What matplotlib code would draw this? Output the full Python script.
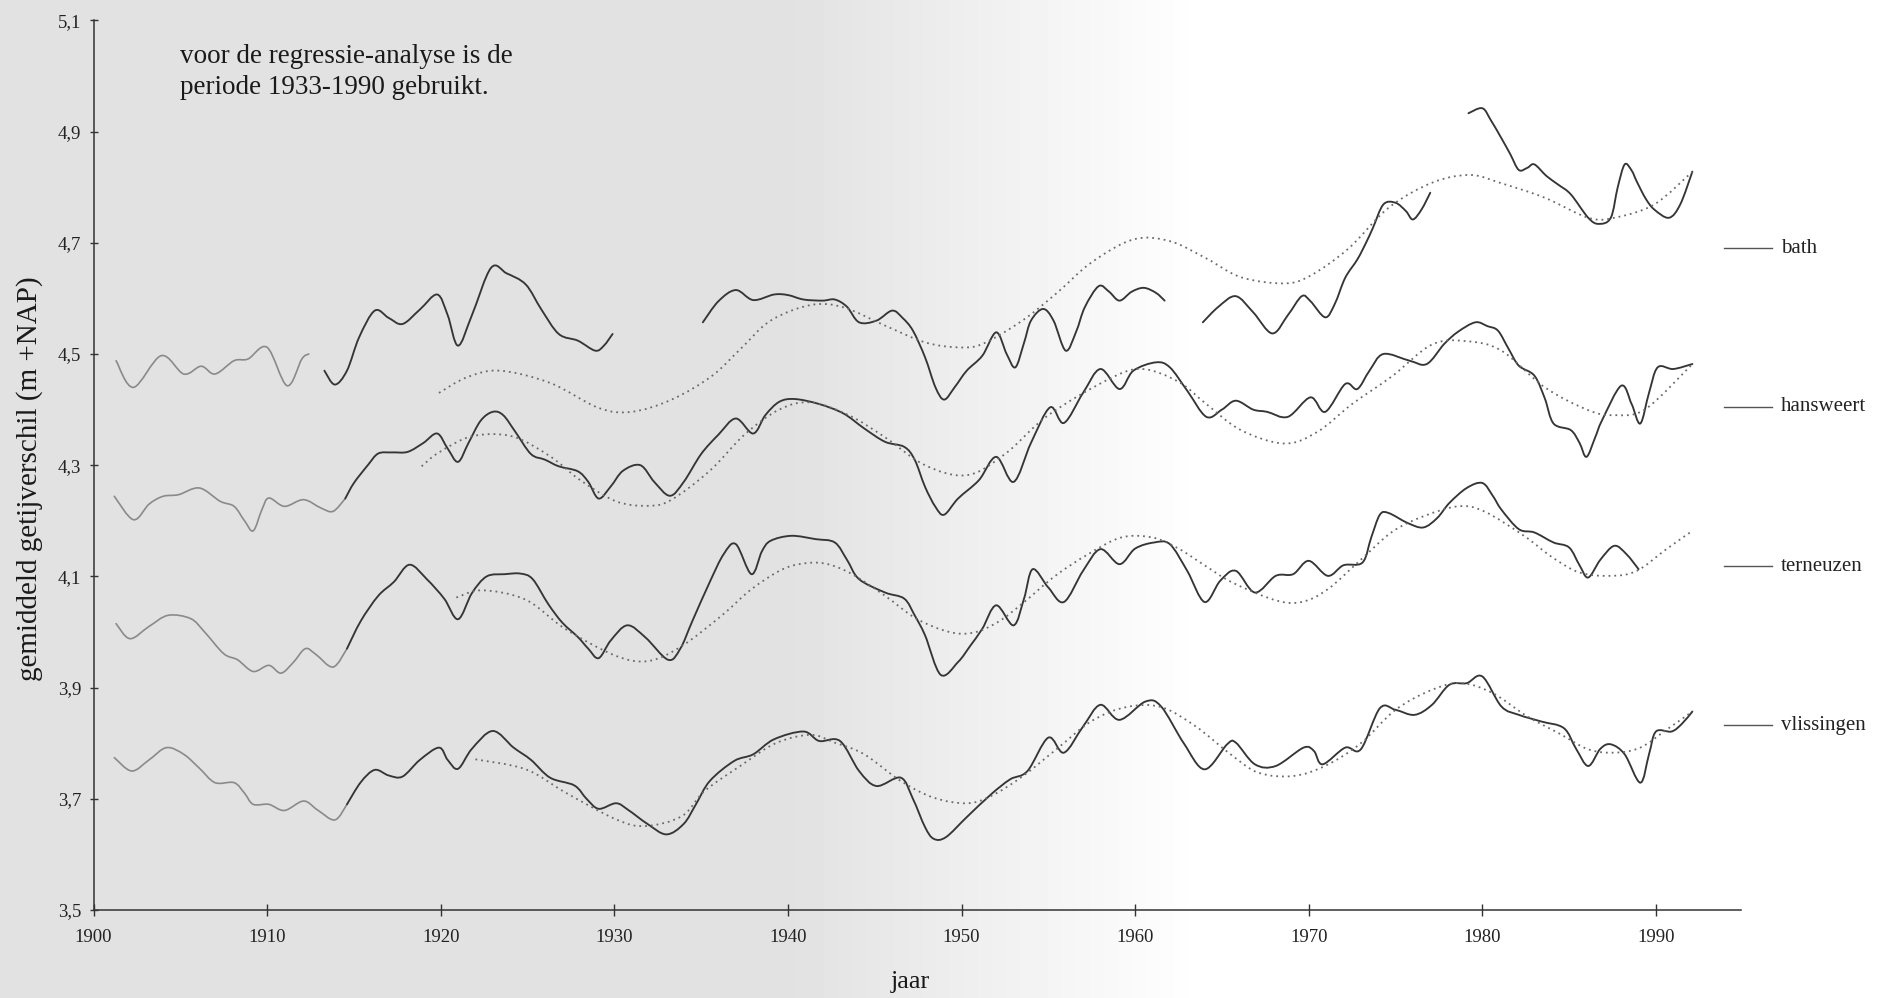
import numpy as np
import matplotlib
matplotlib.use("Agg")
import matplotlib.pyplot as plt
from matplotlib.ticker import FuncFormatter, FixedLocator
from matplotlib.path import Path
from matplotlib.patches import PathPatch

plt.rcParams['font.family'] = ['Liberation Serif', 'DejaVu Serif']

# ---- smoothed yearly mean tidal range (m + NAP), per station ----
# bath: several separate stretches of record
bath_segments = [
    ([1901.3, 1902.3, 1903.9, 1905.2, 1906.2, 1907.0, 1908.1, 1908.9, 1910.0, 1911.15, 1912.0, 1912.4],
     [4.488, 4.440, 4.497, 4.464, 4.478, 4.464, 4.488, 4.491, 4.512, 4.443, 4.491, 4.500]),
    ([1913.3, 1913.9, 1914.6, 1915.3, 1916.2, 1917.0, 1917.8, 1918.8, 1919.8, 1920.4, 1921.0, 1921.8,
      1922.9, 1923.8, 1924.9, 1925.8, 1926.8, 1927.9, 1928.9, 1929.4, 1929.9],
     [4.470, 4.445, 4.470, 4.530, 4.578, 4.565, 4.554, 4.580, 4.607, 4.570, 4.515, 4.570,
      4.655, 4.645, 4.625, 4.580, 4.536, 4.524, 4.506, 4.515, 4.536]),
    ([1935.1, 1936.0, 1937.0, 1938.0, 1939.2, 1940.0, 1940.9, 1942.0, 1942.7, 1943.4, 1944.1, 1945.1,
      1946.0, 1946.6, 1947.2, 1947.9, 1948.5, 1949.0, 1949.6, 1950.3, 1951.2, 1952.0, 1952.6, 1953.1,
      1953.6, 1954.0, 1954.7, 1955.3, 1956.0, 1956.6, 1957.1, 1957.9, 1958.5, 1959.1, 1959.8, 1960.5,
      1961.2, 1961.7],
     [4.557, 4.595, 4.615, 4.597, 4.607, 4.606, 4.598, 4.596, 4.598, 4.585, 4.557, 4.560,
      4.578, 4.565, 4.542, 4.494, 4.440, 4.418, 4.440, 4.470, 4.497, 4.539, 4.500, 4.476,
      4.520, 4.560, 4.581, 4.560, 4.506, 4.540, 4.584, 4.622, 4.612, 4.596, 4.612, 4.619,
      4.610, 4.596]),
    ([1963.9, 1964.8, 1965.8, 1966.8, 1967.9, 1968.8, 1969.6, 1970.1, 1970.95, 1971.5, 1972.1, 1972.8,
      1973.3, 1973.7, 1974.3, 1975.0, 1975.6, 1976.0, 1976.5, 1977.0],
     [4.557, 4.585, 4.604, 4.575, 4.537, 4.570, 4.604, 4.595, 4.566, 4.590, 4.637, 4.670,
      4.700, 4.727, 4.769, 4.772, 4.757, 4.742, 4.760, 4.790]),
    ([1979.2, 1980.0, 1980.5, 1981.1, 1981.6, 1982.1, 1982.6, 1983.0, 1983.7, 1984.4, 1985.1, 1986.1,
      1986.7, 1987.4, 1987.8, 1988.2, 1988.6, 1988.9, 1989.4, 1989.9, 1990.75, 1991.4, 1992.1],
     [4.933, 4.942, 4.920, 4.888, 4.860, 4.831, 4.835, 4.841, 4.820, 4.804, 4.787, 4.745,
      4.734, 4.745, 4.800, 4.841, 4.830, 4.810, 4.780, 4.760, 4.745, 4.769, 4.828]),
]

hansweert_years = [
    1901.2, 1902.3, 1903.2, 1904.0, 1904.9, 1906.1, 1907.3, 1908.1, 1908.7, 1909.2, 1909.7, 1910.1,
    1911.0, 1912.1, 1913.1, 1913.8, 1914.5, 1915.0, 1915.8, 1916.4, 1917.2, 1918.1, 1919.0, 1919.8,
    1920.4, 1921.0, 1921.6, 1922.3, 1923.0, 1923.6, 1924.3, 1925.2, 1926.0, 1926.8, 1927.9, 1928.5,
    1929.1, 1929.8, 1930.5, 1931.5, 1932.3, 1933.2, 1934.0, 1935.0, 1936.0, 1937.0, 1938.0, 1938.7,
    1939.5, 1940.4, 1941.8, 1943.2, 1944.4, 1945.6, 1946.7, 1947.3, 1947.9, 1948.5, 1949.0, 1949.8,
    1951.0, 1952.0, 1953.0, 1954.0, 1955.1, 1955.9, 1957.0, 1958.0, 1959.1, 1959.9, 1961.2, 1962.0,
    1963.0, 1964.1, 1965.0, 1965.8, 1966.8, 1967.6, 1968.8, 1970.1, 1970.95, 1972.1, 1972.8, 1973.5,
    1974.3, 1975.8, 1976.8, 1977.8, 1978.6, 1979.6, 1980.3, 1980.9, 1981.5, 1982.1, 1983.0, 1983.6,
    1984.1, 1985.1, 1985.6, 1986.0, 1986.5, 1986.9, 1988.0, 1988.6, 1989.1, 1989.6, 1990.1, 1991.0,
    1992.1]
hansweert_values = [
    4.244, 4.202, 4.230, 4.244, 4.247, 4.259, 4.235, 4.226, 4.200, 4.182, 4.220, 4.241,
    4.226, 4.238, 4.223, 4.217, 4.240, 4.268, 4.300, 4.321, 4.323, 4.324, 4.340, 4.357,
    4.330, 4.306, 4.340, 4.380, 4.396, 4.390, 4.360, 4.320, 4.310, 4.298, 4.289, 4.270,
    4.240, 4.262, 4.290, 4.300, 4.270, 4.245, 4.270, 4.320, 4.355, 4.384, 4.357, 4.390,
    4.414, 4.419, 4.410, 4.393, 4.366, 4.342, 4.333, 4.310, 4.261, 4.225, 4.211, 4.240,
    4.273, 4.315, 4.270, 4.340, 4.404, 4.376, 4.430, 4.473, 4.437, 4.470, 4.485, 4.476,
    4.434, 4.387, 4.400, 4.416, 4.400, 4.396, 4.387, 4.422, 4.396, 4.446, 4.437, 4.470,
    4.500, 4.488, 4.482, 4.518, 4.540, 4.557, 4.550, 4.542, 4.510, 4.479, 4.461, 4.420,
    4.375, 4.363, 4.340, 4.315, 4.350, 4.381, 4.443, 4.410, 4.375, 4.430, 4.476, 4.473,
    4.482]

terneuzen_years = [
    1901.3, 1902.1, 1903.2, 1904.3, 1905.6, 1906.4, 1907.5, 1908.3, 1909.2, 1910.1, 1910.8, 1911.5,
    1912.2, 1912.8, 1913.8, 1914.6, 1915.4, 1916.4, 1917.3, 1918.2, 1919.2, 1920.2, 1921.0, 1921.8,
    1922.65, 1923.7, 1924.6, 1925.3, 1926.2, 1927.0, 1927.9, 1928.5, 1929.1, 1929.8, 1930.75, 1931.8,
    1933.1, 1933.8, 1934.5, 1935.5, 1936.3, 1937.0, 1937.9, 1938.5, 1939.0, 1940.2, 1941.6, 1942.7,
    1943.4, 1944.1, 1945.6, 1946.7, 1947.3, 1947.9, 1948.8, 1949.8, 1950.5, 1951.2, 1952.0, 1953.0,
    1953.6, 1954.1, 1955.0, 1955.9, 1957.0, 1958.0, 1959.1, 1960.0, 1961.1, 1962.0, 1963.0, 1964.0,
    1964.9, 1965.8, 1966.9, 1968.1, 1969.1, 1970.0, 1971.1, 1972.0, 1973.1, 1973.6, 1974.1, 1974.6,
    1975.7, 1976.6, 1977.4, 1978.1, 1979.1, 1980.0, 1980.6, 1981.1, 1982.1, 1983.0, 1984.1, 1985.0,
    1985.6, 1986.1, 1986.8, 1987.6, 1988.3, 1989.0]
terneuzen_values = [
    4.015, 3.988, 4.010, 4.030, 4.024, 4.000, 3.961, 3.950, 3.929, 3.940, 3.926, 3.945,
    3.970, 3.960, 3.937, 3.970, 4.020, 4.065, 4.090, 4.121, 4.095, 4.060, 4.023, 4.070,
    4.100, 4.104, 4.105, 4.095, 4.050, 4.017, 3.991, 3.970, 3.953, 3.985, 4.012, 3.990,
    3.950, 3.970, 4.020, 4.090, 4.140, 4.158, 4.104, 4.145, 4.164, 4.173, 4.167, 4.161,
    4.130, 4.095, 4.071, 4.060, 4.030, 3.994, 3.923, 3.946, 3.975, 4.006, 4.048, 4.012,
    4.060, 4.113, 4.080, 4.054, 4.110, 4.149, 4.122, 4.150, 4.161, 4.158, 4.110, 4.054,
    4.092, 4.110, 4.071, 4.101, 4.104, 4.128, 4.101, 4.120, 4.125, 4.170, 4.211, 4.214,
    4.196, 4.188, 4.205, 4.232, 4.259, 4.268, 4.245, 4.220, 4.185, 4.179, 4.161, 4.152,
    4.120, 4.098, 4.130, 4.155, 4.140, 4.113]

vlissingen_years = [
    1901.2, 1902.2, 1903.2, 1904.2, 1905.2, 1906.1, 1907.0, 1908.1, 1908.7, 1909.2, 1910.1, 1911.0,
    1912.1, 1912.9, 1913.9, 1914.6, 1915.4, 1916.2, 1917.0, 1917.8, 1918.8, 1919.9, 1920.4, 1921.0,
    1921.8, 1923.0, 1924.2, 1925.2, 1926.3, 1927.7, 1928.4, 1929.1, 1930.1, 1930.8, 1931.9, 1933.0,
    1934.0, 1934.7, 1935.5, 1936.9, 1938.0, 1939.2, 1940.9, 1941.8, 1943.0, 1944.1, 1945.1, 1946.5,
    1947.2, 1947.9, 1948.4, 1949.1, 1950.3, 1951.7, 1952.8, 1953.8, 1955.0, 1955.9, 1957.0, 1958.0,
    1959.1, 1960.6, 1961.5, 1962.8, 1964.0, 1965.3, 1965.8, 1966.9, 1968.1, 1969.7, 1970.3, 1970.8,
    1972.1, 1973.0, 1974.1, 1975.0, 1976.1, 1977.1, 1978.1, 1979.1, 1980.0, 1981.1, 1982.1, 1983.4,
    1984.7, 1985.4, 1986.1, 1986.8, 1987.4, 1988.2, 1989.1, 1989.6, 1990.0, 1990.9, 1991.5, 1992.1]
vlissingen_values = [
    3.774, 3.750, 3.770, 3.792, 3.780, 3.755, 3.729, 3.729, 3.710, 3.690, 3.690, 3.679,
    3.696, 3.680, 3.662, 3.690, 3.730, 3.752, 3.742, 3.740, 3.770, 3.792, 3.770, 3.754,
    3.790, 3.822, 3.792, 3.770, 3.738, 3.724, 3.700, 3.682, 3.692, 3.680, 3.655, 3.636,
    3.655, 3.690, 3.732, 3.768, 3.780, 3.807, 3.821, 3.804, 3.804, 3.750, 3.723, 3.738,
    3.700, 3.649, 3.628, 3.631, 3.667, 3.708, 3.735, 3.750, 3.810, 3.783, 3.830, 3.869,
    3.842, 3.875, 3.866, 3.800, 3.753, 3.798, 3.801, 3.762, 3.759, 3.792, 3.786, 3.762,
    3.792, 3.789, 3.863, 3.860, 3.851, 3.869, 3.905, 3.908, 3.920, 3.866, 3.851, 3.839,
    3.827, 3.790, 3.759, 3.790, 3.798, 3.780, 3.729, 3.780, 3.821, 3.821, 3.835, 3.857]

# ---- regression fits (trend + nodal cycle), dotted ----
bath_fit_years = [1919.9, 1921.5, 1923.4, 1926.3, 1929.1, 1931.0, 1933.3, 1935.6, 1937.3, 1939.0,
                  1941.3, 1943.2, 1945.6, 1947.9, 1949.8, 1951.2, 1953.5, 1955.5, 1957.5, 1959.9,
                  1962.0, 1964.1, 1966.1, 1968.6, 1970.1, 1972.3, 1974.6, 1977.1, 1979.3, 1981.1,
                  1983.6, 1986.1, 1987.6, 1989.9, 1992.1]
bath_fit_values = [4.430, 4.458, 4.470, 4.448, 4.403, 4.396, 4.418, 4.460, 4.510, 4.560,
                   4.588, 4.584, 4.551, 4.521, 4.512, 4.518, 4.560, 4.610, 4.665, 4.706,
                   4.703, 4.672, 4.638, 4.627, 4.641, 4.690, 4.763, 4.808, 4.822, 4.807,
                   4.781, 4.745, 4.745, 4.769, 4.828]

hansweert_fit_years = [1918.9, 1919.9, 1921.8, 1924.1, 1926.3, 1928.0, 1930.1, 1932.0, 1933.3, 1935.5,
                       1937.5, 1939.5, 1941.3, 1943.5, 1945.6, 1947.9, 1950.3, 1952.5, 1955.0, 1958.5,
                       1960.4, 1962.5, 1964.1, 1966.1, 1968.6, 1970.5, 1972.5, 1974.8, 1977.1, 1979.1,
                       1981.1, 1983.6, 1986.1, 1987.6, 1989.4, 1992.1]
hansweert_fit_values = [4.298, 4.323, 4.352, 4.352, 4.316, 4.274, 4.235, 4.227, 4.238, 4.290,
                        4.355, 4.400, 4.413, 4.390, 4.350, 4.300, 4.282, 4.320, 4.390, 4.455,
                        4.473, 4.450, 4.410, 4.363, 4.339, 4.360, 4.410, 4.460, 4.517, 4.523,
                        4.506, 4.440, 4.399, 4.390, 4.401, 4.482]

terneuzen_fit_years = [1920.9, 1922.4, 1924.9, 1927.2, 1930.1, 1932.0, 1933.9, 1936.2, 1937.9, 1939.7,
                       1941.1, 1942.3, 1943.7, 1945.6, 1947.4, 1949.3, 1950.7, 1952.1, 1953.5, 1955.4,
                       1957.3, 1959.2, 1961.0, 1962.5, 1964.0, 1965.6, 1968.1, 1969.6, 1971.1, 1973.0,
                       1974.8, 1976.6, 1978.6, 1980.1, 1982.4, 1984.0, 1985.6, 1987.4, 1988.9, 1990.6,
                       1992.1]
terneuzen_fit_values = [4.062, 4.075, 4.058, 4.005, 3.957, 3.948, 3.975, 4.030, 4.077, 4.113,
                        4.124, 4.122, 4.104, 4.065, 4.024, 4.000, 3.999, 4.018, 4.051, 4.101,
                        4.140, 4.170, 4.170, 4.150, 4.120, 4.089, 4.057, 4.054, 4.077, 4.130,
                        4.180, 4.208, 4.226, 4.217, 4.173, 4.135, 4.107, 4.101, 4.110, 4.149,
                        4.182]

vlissingen_fit_years = [1922.0, 1924.9, 1927.2, 1930.1, 1931.8, 1933.9, 1935.2, 1937.3, 1939.3, 1941.3,
                        1942.7, 1944.4, 1946.5, 1948.4, 1950.3, 1951.7, 1953.5, 1955.5, 1957.5, 1959.5,
                        1961.5, 1963.5, 1965.5, 1967.1, 1969.1, 1971.0, 1973.0, 1975.0, 1977.1, 1978.8,
                        1980.6, 1982.6, 1984.4, 1986.1, 1987.6, 1989.1, 1990.6, 1992.1]
vlissingen_fit_values = [3.771, 3.753, 3.711, 3.663, 3.651, 3.669, 3.714, 3.760, 3.800, 3.815,
                         3.801, 3.780, 3.732, 3.702, 3.692, 3.705, 3.740, 3.790, 3.840, 3.865,
                         3.865, 3.830, 3.780, 3.747, 3.741, 3.760, 3.800, 3.860, 3.896, 3.908,
                         3.890, 3.848, 3.818, 3.789, 3.783, 3.792, 3.824, 3.857]

stations = ['bath', 'hansweert', 'terneuzen', 'vlissingen']
label_levels = [4.69, 4.405, 4.118, 3.832]

y_ticks = [3.5, 3.7, 3.9, 4.1, 4.3, 4.5, 4.7, 4.9, 5.1]
x_ticks = [1900, 1910, 1920, 1930, 1940, 1950, 1960, 1970, 1980, 1990]

note = "voor de regressie-analyse is de\nperiode 1933-1990 gebruikt."

# ---------------------------------------------------------------
W, H = 1879, 998
fig = plt.figure(figsize=(W / 100, H / 100), dpi=100)

# photocopy-grey tone over the left part of the sheet
bg = fig.add_axes([0, 0, 1, 1], zorder=-10)
cols = np.linspace(0, 1, 400)
tone = 0.885 + 0.115 * np.clip((cols - 0.42) / 0.22, 0, 1)
bg.imshow(np.tile(tone, (2, 1)), cmap='gray', vmin=0, vmax=1, aspect='auto',
          extent=[0, 1, 0, 1], interpolation='bilinear')
bg.set_xlim(0, 1)
bg.set_ylim(0, 1)
bg.axis('off')

ax = fig.add_axes([93.5 / W, 88 / H, (1741 - 93.5) / W, (977.6 - 88) / H])
ax.patch.set_alpha(0)

solid_kw = dict(edgecolor='#353535', lw=1.35, capstyle='round', joinstyle='round')
early_kw = dict(edgecolor='#8a8a8a', lw=1.2, capstyle='round')
fit_kw = dict(edgecolor='#6a6a6a', lw=1.3, linestyle=(0, (1, 2.2)))


def curve(years, values, **kw):
    """Draw a smooth curve through the given points (cubic Bezier segments)."""
    pts = np.column_stack([years, values]).astype(float)
    n = len(pts)
    verts = [pts[0]]
    codes = [Path.MOVETO]
    for i in range(n - 1):
        p0 = pts[i - 1] if i > 0 else pts[i]
        p1, p2 = pts[i], pts[i + 1]
        p3 = pts[i + 2] if i + 2 < n else pts[i + 1]
        verts += [p1 + (p2 - p0) / 6.0, p2 - (p3 - p1) / 6.0, p2]
        codes += [Path.CURVE4] * 3
    ax.add_patch(PathPatch(Path(verts, codes), fill=False, **kw))


def draw_series(years, values):
    years = np.asarray(years)
    values = np.asarray(values)
    idx = np.where(years <= 1914.6)[0][-1]
    curve(years[:idx + 1], values[:idx + 1], **early_kw)
    curve(years[idx:], values[idx:], **solid_kw)


for yrs, vals in bath_segments:
    curve(yrs, vals, **(early_kw if yrs[-1] < 1913 else solid_kw))
draw_series(hansweert_years, hansweert_values)
draw_series(terneuzen_years, terneuzen_values)
draw_series(vlissingen_years, vlissingen_values)

for fy, fv in [(bath_fit_years, bath_fit_values), (hansweert_fit_years, hansweert_fit_values),
               (terneuzen_fit_years, terneuzen_fit_values), (vlissingen_fit_years, vlissingen_fit_values)]:
    curve(fy, fv, **fit_kw)

ax.set_xlim(1900, 1994.9)
ax.set_ylim(3.5, 5.1)

for side in ['top', 'right']:
    ax.spines[side].set_visible(False)
for side in ['left', 'bottom']:
    ax.spines[side].set_color('#333333')
    ax.spines[side].set_linewidth(1.1)

ax.xaxis.set_major_locator(FixedLocator(x_ticks))
ax.yaxis.set_major_locator(FixedLocator(y_ticks))
ax.yaxis.set_major_formatter(FuncFormatter(lambda v, p: f"{v:.1f}".replace('.', ',')))
ax.tick_params(axis='x', direction='inout', length=9, width=1.0, color='#333333',
               labelsize=13.5, labelcolor='#222222', pad=9)
ax.tick_params(axis='y', direction='inout', length=6, width=1.0, color='#333333',
               labelsize=13.5, labelcolor='#222222', pad=6)

# station labels beside the curves
for name, lev in zip(stations, label_levels):
    ax.plot([1993.9, 1996.7], [lev, lev], color='#555555', lw=1.0, clip_on=False)
    ax.text(1997.2, lev, name, fontsize=15, color='#222222', va='center', ha='left',
            clip_on=False)

fig.text(180 / W, 1 - 44 / H, note, fontsize=19.5, color='#1a1a1a', ha='left', va='top',
         linespacing=1.3)
fig.text(30 / W, 0.52, 'gemiddeld getijverschil (m +NAP)', rotation=90, fontsize=21,
         color='#1a1a1a', ha='center', va='center')
fig.text(910 / W, 1 - 982 / H, 'jaar', fontsize=19, color='#1a1a1a', ha='center',
         va='center')

fig.savefig('out.png', dpi=100)
